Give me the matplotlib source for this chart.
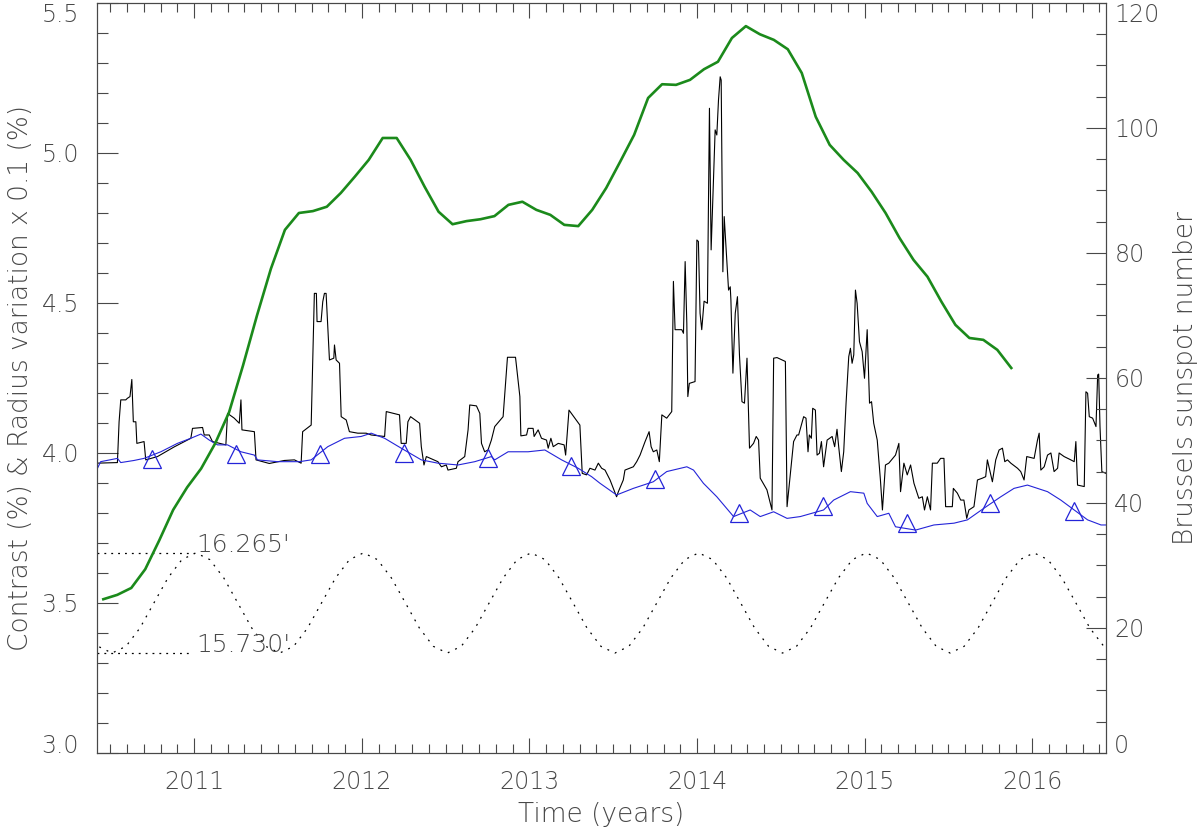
import numpy as np
import matplotlib
matplotlib.use("Agg")
import matplotlib.pyplot as plt
from matplotlib.ticker import MultipleLocator, FixedLocator

plt.rcParams['font.family'] = ['DejaVu Sans']
plt.rcParams['font.weight'] = 'light'
plt.rcParams['axes.labelweight'] = 'light'

# contrast (black), daily-ish step series
contrast_t = [2010.418, 2010.542, 2010.552, 2010.562, 2010.592, 2010.601, 2010.617, 2010.628,
              2010.637, 2010.652, 2010.658, 2010.701, 2010.711, 2010.781, 2010.880, 2010.980,
              2010.990, 2011.050, 2011.060, 2011.090, 2011.109, 2011.189, 2011.199, 2011.239,
              2011.269, 2011.279, 2011.285, 2011.359, 2011.369, 2011.448, 2011.538, 2011.598,
              2011.638, 2011.647, 2011.698, 2011.717, 2011.729, 2011.733, 2011.757, 2011.767,
              2011.777, 2011.787, 2011.807, 2011.833, 2011.837, 2011.847, 2011.867, 2011.877,
              2011.907, 2011.926, 2011.976, 2012.026, 2012.056, 2012.136, 2012.146, 2012.225,
              2012.235, 2012.265, 2012.275, 2012.291, 2012.345, 2012.355, 2012.371, 2012.385,
              2012.454, 2012.475, 2012.504, 2012.514, 2012.564, 2012.574, 2012.614, 2012.634,
              2012.644, 2012.684, 2012.704, 2012.714, 2012.733, 2012.753, 2012.773, 2012.793,
              2012.843, 2012.869, 2012.917, 2012.932, 2012.943, 2012.949, 2012.983, 2012.992,
              2013.022, 2013.028, 2013.052, 2013.072, 2013.102, 2013.112, 2013.128, 2013.142,
              2013.172, 2013.207, 2013.216, 2013.236, 2013.271, 2013.301, 2013.315, 2013.341,
              2013.361, 2013.391, 2013.411, 2013.431, 2013.451, 2013.481, 2013.520, 2013.530,
              2013.560, 2013.570, 2013.620, 2013.640, 2013.660, 2013.690, 2013.714, 2013.726,
              2013.739, 2013.760, 2013.775, 2013.790, 2013.819, 2013.849, 2013.859, 2013.869,
              2013.909, 2013.919, 2013.929, 2013.939, 2013.945, 2013.954, 2013.988, 2013.999,
              2014.008, 2014.018, 2014.028, 2014.042, 2014.062, 2014.074, 2014.084, 2014.108,
              2014.118, 2014.128, 2014.138, 2014.144, 2014.154, 2014.162, 2014.188, 2014.198,
              2014.202, 2014.214, 2014.228, 2014.241, 2014.253, 2014.268, 2014.283, 2014.298,
              2014.313, 2014.337, 2014.353, 2014.367, 2014.377, 2014.417, 2014.447, 2014.457,
              2014.477, 2014.527, 2014.537, 2014.576, 2014.596, 2014.606, 2014.636, 2014.650,
              2014.662, 2014.670, 2014.682, 2014.690, 2014.706, 2014.716, 2014.730, 2014.742,
              2014.755, 2014.776, 2014.806, 2014.821, 2014.835, 2014.845, 2014.861, 2014.875,
              2014.889, 2014.905, 2014.915, 2014.925, 2014.935, 2014.945, 2014.955, 2014.969,
              2014.985, 2014.999, 2015.015, 2015.029, 2015.041, 2015.054, 2015.075, 2015.094,
              2015.106, 2015.124, 2015.144, 2015.184, 2015.204, 2015.214, 2015.234, 2015.254,
              2015.274, 2015.294, 2015.323, 2015.344, 2015.357, 2015.374, 2015.393, 2015.404,
              2015.433, 2015.453, 2015.473, 2015.483, 2015.523, 2015.529, 2015.553, 2015.573,
              2015.592, 2015.609, 2015.622, 2015.652, 2015.673, 2015.702, 2015.722, 2015.732,
              2015.762, 2015.782, 2015.802, 2015.822, 2015.836, 2015.852, 2015.872, 2015.912,
              2015.931, 2015.951, 2015.967, 2016.011, 2016.031, 2016.041, 2016.051, 2016.071,
              2016.091, 2016.111, 2016.130, 2016.151, 2016.160, 2016.190, 2016.230, 2016.250,
              2016.260, 2016.270, 2016.310, 2016.320, 2016.330, 2016.340, 2016.360, 2016.380,
              2016.390, 2016.396, 2016.404, 2016.415, 2016.439]
contrast_v = [3.966, 3.968, 4.104, 4.177, 4.177, 4.182, 4.188, 4.245,
              4.104, 4.104, 4.032, 4.038, 3.977, 3.988, 4.020, 4.049,
              4.082, 4.085, 4.060, 4.060, 4.038, 4.027, 4.132, 4.116,
              4.099, 4.177, 4.077, 4.071, 3.977, 3.965, 3.975, 3.977,
              3.966, 4.071, 4.093, 4.532, 4.532, 4.438, 4.438, 4.504,
              4.532, 4.532, 4.310, 4.316, 4.360, 4.310, 4.299, 4.121,
              4.110, 4.071, 4.066, 4.066, 4.060, 4.055, 4.138, 4.127,
              4.032, 4.032, 4.104, 4.121, 4.099, 4.021, 3.960, 3.988,
              3.971, 3.954, 3.960, 3.943, 3.949, 3.971, 3.988, 4.077,
              4.160, 4.157, 4.132, 4.032, 4.004, 4.010, 4.043, 4.088,
              4.121, 4.319, 4.319, 4.243, 4.188, 4.057, 4.060, 4.082,
              4.082, 4.055, 4.077, 4.049, 4.043, 4.016, 4.049, 4.021,
              4.032, 4.027, 3.993, 4.143, 4.116, 4.093, 3.932, 3.927,
              3.949, 3.943, 3.966, 3.949, 3.943, 3.910, 3.854, 3.870,
              3.910, 3.943, 3.954, 3.971, 3.993, 4.038, 4.071, 4.021,
              4.004, 4.010, 3.971, 4.127, 4.116, 4.138, 4.572, 4.411,
              4.411, 4.399, 4.638, 4.432, 4.188, 4.232, 4.238, 4.710,
              4.705, 4.466, 4.411, 4.506, 4.499, 5.149, 4.677, 5.077,
              5.060, 5.177, 5.254, 5.243, 4.604, 4.788, 4.543, 4.554,
              4.510, 4.266, 4.466, 4.521, 4.327, 4.171, 4.166, 4.316,
              4.016, 4.032, 4.055, 4.043, 3.916, 3.877, 3.810, 4.316,
              4.318, 4.305, 3.821, 4.038, 4.060, 4.060, 4.121, 4.116,
              4.004, 4.060, 4.049, 4.149, 4.143, 3.993, 3.999, 4.038,
              3.954, 4.043, 4.055, 4.021, 4.079, 4.021, 3.938, 4.004,
              4.166, 4.321, 4.349, 4.299, 4.327, 4.543, 4.499, 4.371,
              4.338, 4.249, 4.411, 4.166, 4.171, 4.099, 4.043, 3.910,
              3.810, 3.960, 3.966, 3.993, 4.032, 3.871, 3.966, 3.927,
              3.960, 3.899, 3.849, 3.854, 3.810, 3.854, 3.810, 3.966,
              3.966, 3.982, 3.982, 3.821, 3.821, 3.882, 3.866, 3.843,
              3.843, 3.782, 3.810, 3.821, 3.910, 3.916, 3.921, 3.977,
              3.904, 3.977, 4.010, 4.016, 3.971, 3.977, 3.966, 3.949,
              3.938, 3.910, 3.988, 3.982, 4.043, 4.066, 3.943, 3.954,
              3.993, 4.000, 3.938, 3.949, 4.000, 3.988, 3.977, 3.971,
              4.038, 3.893, 3.888, 4.204, 4.199, 4.121, 4.116, 4.088,
              4.260, 4.263, 4.088, 3.938, 3.932]

# radius variation x 0.1 (blue)
radvar_t = [2010.418, 2010.442, 2010.542, 2010.562, 2010.641, 2010.701, 2010.801, 2010.900,
            2010.980, 2011.040, 2011.090, 2011.139, 2011.199, 2011.279, 2011.359, 2011.378,
            2011.498, 2011.628, 2011.698, 2011.797, 2011.897, 2011.996, 2012.056, 2012.136,
            2012.235, 2012.355, 2012.454, 2012.574, 2012.674, 2012.773, 2012.793, 2012.873,
            2012.992, 2013.092, 2013.192, 2013.291, 2013.371, 2013.421, 2013.520, 2013.620,
            2013.739, 2013.819, 2013.939, 2013.979, 2014.038, 2014.118, 2014.218, 2014.317,
            2014.377, 2014.457, 2014.537, 2014.616, 2014.755, 2014.815, 2014.915, 2014.995,
            2015.015, 2015.075, 2015.144, 2015.184, 2015.304, 2015.413, 2015.533, 2015.613,
            2015.712, 2015.812, 2015.891, 2015.971, 2016.091, 2016.170, 2016.250, 2016.330,
            2016.410, 2016.445]
radvar_v = [3.943, 3.971, 3.982, 3.968, 3.975, 3.982, 4.004, 4.032,
            4.049, 4.063, 4.043, 4.027, 4.027, 4.004, 3.993, 3.977,
            3.971, 3.971, 3.977, 4.021, 4.049, 4.055, 4.066, 4.049,
            4.016, 3.977, 3.966, 3.960, 3.971, 3.988, 3.977, 4.004,
            4.004, 4.010, 3.977, 3.949, 3.921, 3.899, 3.860, 3.882,
            3.904, 3.938, 3.954, 3.943, 3.899, 3.854, 3.788, 3.810,
            3.788, 3.804, 3.782, 3.788, 3.810, 3.843, 3.871, 3.866,
            3.832, 3.788, 3.799, 3.754, 3.743, 3.760, 3.766, 3.777,
            3.816, 3.854, 3.882, 3.893, 3.871, 3.843, 3.810, 3.777,
            3.760, 3.760]
marker_t = [2010.75, 2011.25, 2011.75, 2012.25, 2012.75, 2013.25,
            2013.75, 2014.25, 2014.75, 2015.25, 2015.75, 2016.25]
marker_v = [3.979, 3.998, 3.997, 4.000, 3.983, 3.958,
            3.912, 3.800, 3.824, 3.767, 3.834, 3.808]

# apparent solar radius (arcmin), monthly from May 2010
radius_t0 = 2010.3433
radius_arcmin = [15.864, 15.766, 15.730, 15.766, 15.864, 15.998, 16.131, 16.229,
                 16.265, 16.229, 16.131, 15.998, 15.864, 15.766, 15.730, 15.766, 15.864, 15.998, 16.131, 16.229,
                 16.265, 16.229, 16.131, 15.998, 15.864, 15.766, 15.730, 15.766, 15.864, 15.998, 16.131, 16.229,
                 16.265, 16.229, 16.131, 15.998, 15.864, 15.766, 15.730, 15.766, 15.864, 15.998, 16.131, 16.229,
                 16.265, 16.229, 16.131, 15.998, 15.864, 15.766, 15.730, 15.766, 15.864, 15.998, 16.131, 16.229,
                 16.265, 16.229, 16.131, 15.998, 15.864, 15.766, 15.730, 15.766, 15.864, 15.998, 16.131, 16.229,
                 16.265, 16.229, 16.131, 15.998, 15.864, 15.766, 15.730]
radius_max, radius_min = 16.265, 15.730
radius_plot_max, radius_plot_min = 3.667, 3.333

# smoothed Brussels sunspot number, monthly from mid-June 2010
ssn_t0 = 2010.458
ssn = [24.6, 25.3, 26.4, 29.4, 34.0, 38.9, 42.5, 45.5, 49.5, 54.5,
       62.0, 70.0, 77.5, 83.7, 86.4, 86.7, 87.4, 89.6, 92.2, 94.9,
       98.4, 98.4, 94.9, 90.6, 86.6, 84.6, 85.1, 85.4, 85.9, 87.7,
       88.2, 86.9, 86.1, 84.5, 84.3, 86.9, 90.4, 94.6, 98.9, 104.8,
       107.0, 106.9, 107.7, 109.4, 110.6, 114.4, 116.3, 115.0, 114.1, 112.6,
       108.8, 101.8, 97.3, 94.9, 92.8, 89.8, 86.4, 82.4, 78.9, 76.2,
       72.2, 68.5, 66.4, 66.1, 64.5, 61.6]

xlim = (2010.42, 2016.44)
left_ticks = [3.0, 3.5, 4.0, 4.5, 5.0, 5.5]
right_ticks = [0, 20, 40, 60, 80, 100, 120]
text_c = '#484848'
fs = 17
lfs = 19

fig = plt.figure(figsize=(12, 8.32), dpi=100)
ax = fig.add_axes([0.0808, 0.0950, 0.8409, 0.9014])
ax2 = ax.twinx()

ax.plot(contrast_t, contrast_v, color='black', lw=0.8)
ax.plot(radvar_t, radvar_v, color='#2424d8', lw=0.8)
ax.plot(marker_t, marker_v, ls='none', marker='^', ms=13, mfc='none',
        mec='#2424d8', mew=0.9)

rt = radius_t0 + np.arange(len(radius_arcmin)) / 12.0
rv = radius_plot_min + (np.array(radius_arcmin) - radius_min) / (radius_max - radius_min) \
    * (radius_plot_max - radius_plot_min)
ax.plot(rt, rv, color='black', lw=0.9, dashes=(1.5, 5))
ax.plot([xlim[0], 2011.0], [radius_plot_max] * 2, color='black', lw=0.9, dashes=(1.5, 4))
ax.plot([xlim[0], 2010.98], [radius_plot_min] * 2, color='black', lw=0.9, dashes=(1.5, 4))
ax.text(2011.01, radius_plot_max + 0.004, "%.3f'" % radius_max, fontsize=18,
        color=text_c, va='baseline', ha='left')
ax.text(2011.01, radius_plot_min + 0.004, "%.3f'" % radius_min, fontsize=18,
        color=text_c, va='baseline', ha='left')

st = ssn_t0 + np.arange(len(ssn)) / 12.0
ax2.plot(st, ssn, color='#1b8a1b', lw=1.9)

ax.set_xlim(*xlim)
ax.set_ylim(left_ticks[0], left_ticks[-1])
ax2.set_ylim(right_ticks[0], right_ticks[-1])

ax.xaxis.set_major_locator(MultipleLocator(1))
ax.xaxis.set_minor_locator(MultipleLocator(0.1))
ax.yaxis.set_major_locator(FixedLocator(left_ticks))
ax.yaxis.set_minor_locator(MultipleLocator(0.1))
ax2.yaxis.set_major_locator(FixedLocator(right_ticks))
ax2.yaxis.set_minor_locator(MultipleLocator(5))
ax.xaxis.set_major_formatter(plt.FuncFormatter(lambda v, p: '%d' % round(v)))
ax.yaxis.set_major_formatter(plt.FormatStrFormatter('%.1f'))

ax.tick_params(axis='x', which='major', direction='in', top=True, length=11,
               width=0.8, color=text_c, labelsize=fs, labelcolor=text_c, pad=12)
ax.tick_params(axis='x', which='minor', direction='in', top=True, length=6.5,
               width=0.8, color=text_c)
ax.tick_params(axis='y', which='major', direction='in', right=False, length=15,
               width=0.8, color=text_c, labelsize=fs, labelcolor=text_c, pad=13)
ax.tick_params(axis='y', which='minor', direction='in', right=False, length=8,
               width=0.8, color=text_c)
ax2.tick_params(axis='y', which='major', direction='in', length=14.5, width=0.8,
                color=text_c, labelsize=fs, labelcolor=text_c, pad=6)
ax2.tick_params(axis='y', which='minor', direction='in', length=7.5, width=0.8,
                color=text_c)

# end labels sit inside the axis range, as in the original
for a, side in ((ax, 'label1'), (ax2, 'label2')):
    ticks = a.yaxis.get_major_ticks()
    getattr(ticks[0], side).set_va('baseline')
    getattr(ticks[-1], side).set_va('top')

for a in (ax, ax2):
    for s in a.spines.values():
        s.set_color(text_c)
        s.set_linewidth(0.8)

ax.set_xlabel('Time (years)', fontsize=lfs, color=text_c)
ax.set_ylabel('Contrast (%) & Radius variation x 0.1 (%)', fontsize=lfs, color=text_c)
ax2.set_ylabel('Brussels sunspot number', fontsize=lfs, color=text_c)
ax.xaxis.set_label_coords(0.5, -0.066)
ax.yaxis.set_label_coords(-0.0634, 0.5)
ax2.yaxis.set_label_coords(1.0664, 0.5)

fig.savefig('out.png', dpi=100)
